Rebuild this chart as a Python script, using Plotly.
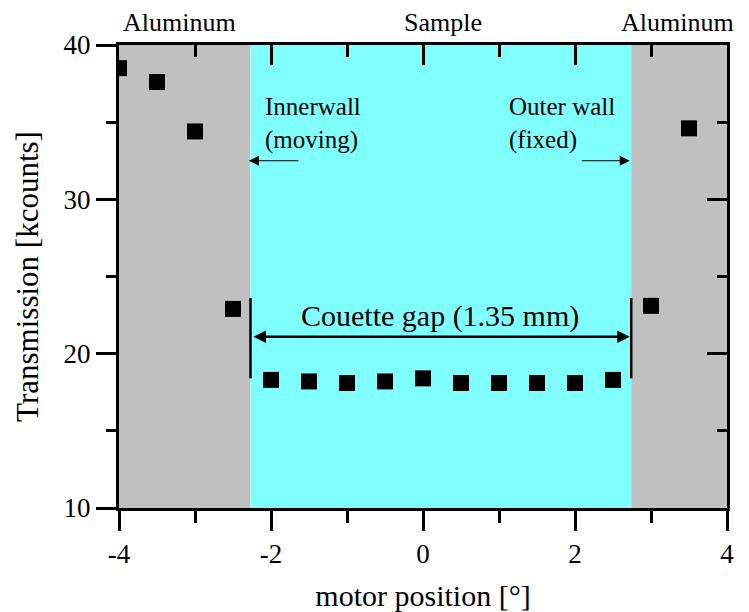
import plotly.graph_objects as go

# Data
motor_pos = [-4.0, -3.5, -3.0, -2.5, -2.0, -1.5, -1.0, -0.5, 0.0, 0.5, 1.0, 1.5, 2.0, 2.5, 3.0, 3.5]
transmission = [38.5, 37.6, 34.4, 22.9, 18.3, 18.2, 18.1, 18.2, 18.4, 18.1, 18.1, 18.1, 18.1, 18.3, 23.1, 34.6]
inner_wall = -2.27
outer_wall = 2.74
x_ticks = [-4, -2, 0, 2, 4]
x_ticktext = ["-4", "-2", "0", "2", "4"]
y_ticks = [10, 20, 30, 40]

FONT = "Liberation Serif"

fig = go.Figure()
fig.add_trace(go.Scatter(
    x=motor_pos, y=transmission, mode="markers",
    marker=dict(symbol="square", size=16, color="black", line=dict(width=0)),
    showlegend=False, cliponaxis=True,
))

# Background regions
fig.add_shape(type="rect", xref="x", yref="y", x0=-4, x1=inner_wall, y0=10, y1=40,
              fillcolor="#C0C0C0", line=dict(width=0), layer="below")
fig.add_shape(type="rect", xref="x", yref="y", x0=inner_wall, x1=outer_wall, y0=10, y1=40,
              fillcolor="#80FFFF", line=dict(width=0), layer="below")
fig.add_shape(type="rect", xref="x", yref="y", x0=outer_wall, x1=4, y0=10, y1=40,
              fillcolor="#C0C0C0", line=dict(width=0), layer="below")

# Gap markers
for xw in (inner_wall, outer_wall):
    fig.add_shape(type="line", xref="x", yref="y", x0=xw, x1=xw, y0=18.4, y1=23.6,
                  line=dict(color="black", width=2.5))

fig.add_annotation(x=outer_wall - 0.02, y=21.1, ax=inner_wall + 0.02, ay=21.1,
                   xref="x", yref="y", axref="x", ayref="y", text="",
                   showarrow=True, arrowhead=2, arrowside="end+start",
                   arrowwidth=2.5, arrowsize=1.0, arrowcolor="black")
fig.add_annotation(x=0.22, y=22.45, xref="x", yref="y", text="Couette gap (1.35 mm)",
                   showarrow=False, font=dict(family=FONT, size=30, color="black"))

# Wall arrows
fig.add_annotation(x=inner_wall - 0.02, y=32.5, ax=-1.62, ay=32.5,
                   xref="x", yref="y", axref="x", ayref="y", text="",
                   showarrow=True, arrowhead=2, arrowwidth=1, arrowsize=2, arrowcolor="black")
fig.add_annotation(x=outer_wall - 0.02, y=32.5, ax=2.07, ay=32.5,
                   xref="x", yref="y", axref="x", ayref="y", text="",
                   showarrow=True, arrowhead=2, arrowwidth=1, arrowsize=2, arrowcolor="black")
fig.add_annotation(x=-2.11, y=34.9, xref="x", yref="y", xanchor="left", align="left",
                   text="Innerwall<br>(moving)", showarrow=False,
                   font=dict(family=FONT, size=25, color="black"))
fig.add_annotation(x=1.1, y=34.9, xref="x", yref="y", xanchor="left", align="left",
                   text="Outer wall<br>(fixed)", showarrow=False,
                   font=dict(family=FONT, size=25, color="black"))

# Top labels
for xl, t in [(-3.2, "Aluminum"), (0.26, "Sample"), (3.35, "Aluminum")]:
    fig.add_annotation(x=xl, y=1.0, xref="x", yref="paper", yanchor="bottom", yshift=6,
                       text=t, showarrow=False,
                       font=dict(family=FONT, size=26, color="black"))

axis_common = dict(showgrid=False, zeroline=False, showline=True, linecolor="black",
                   linewidth=3, tickcolor="black", tickwidth=3, automargin=False,
                   tickfont=dict(family=FONT, size=27, color="black"))

fig.update_layout(
    width=749, height=612,
    margin=dict(l=119, r=22, t=45, b=104),
    plot_bgcolor="white", paper_bgcolor="white",
    xaxis=dict(range=[-4, 4], tickvals=x_ticks, ticktext=x_ticktext, ticks="outside", ticklen=20,
               minor=dict(tickvals=[-3, -1, 1, 3], ticks="outside", ticklen=12,
                          tickwidth=3, tickcolor="black"),
               title=dict(text="motor position [°]", font=dict(family=FONT, size=30, color="black"),
                          standoff=22),
               **axis_common),
    yaxis=dict(range=[10, 40], tickvals=y_ticks, ticks="outside", ticklen=20,
               minor=dict(tickvals=[15, 25, 35], ticks="outside", ticklen=10,
                          tickwidth=3, tickcolor="black"),
               title=dict(text="Transmission [kcounts]", font=dict(family=FONT, size=31, color="black"),
                          standoff=16),
               **axis_common),
    xaxis2=dict(range=[-4, 4], overlaying="x", side="top", tickvals=x_ticks,
                ticks="inside", ticklen=20, showticklabels=False, automargin=False,
                minor=dict(tickvals=[-3, -1, 1, 3], ticks="inside", ticklen=12,
                           tickwidth=3, tickcolor="black"),
                showgrid=False, zeroline=False, showline=True, linecolor="black",
                linewidth=3, tickcolor="black", tickwidth=3),
    yaxis2=dict(range=[10, 40], overlaying="y", side="right", tickvals=y_ticks,
                ticks="inside", ticklen=20, showticklabels=False, automargin=False,
                minor=dict(tickvals=[15, 25, 35], ticks="inside", ticklen=10,
                           tickwidth=3, tickcolor="black"),
                showgrid=False, zeroline=False, showline=True, linecolor="black",
                linewidth=3, tickcolor="black", tickwidth=3),
)
# dummy trace to activate secondary axes
fig.add_trace(go.Scatter(x=[None], y=[None], xaxis="x2", yaxis="y2", showlegend=False,
                         hoverinfo="skip"))

fig.write_html("out.html")
